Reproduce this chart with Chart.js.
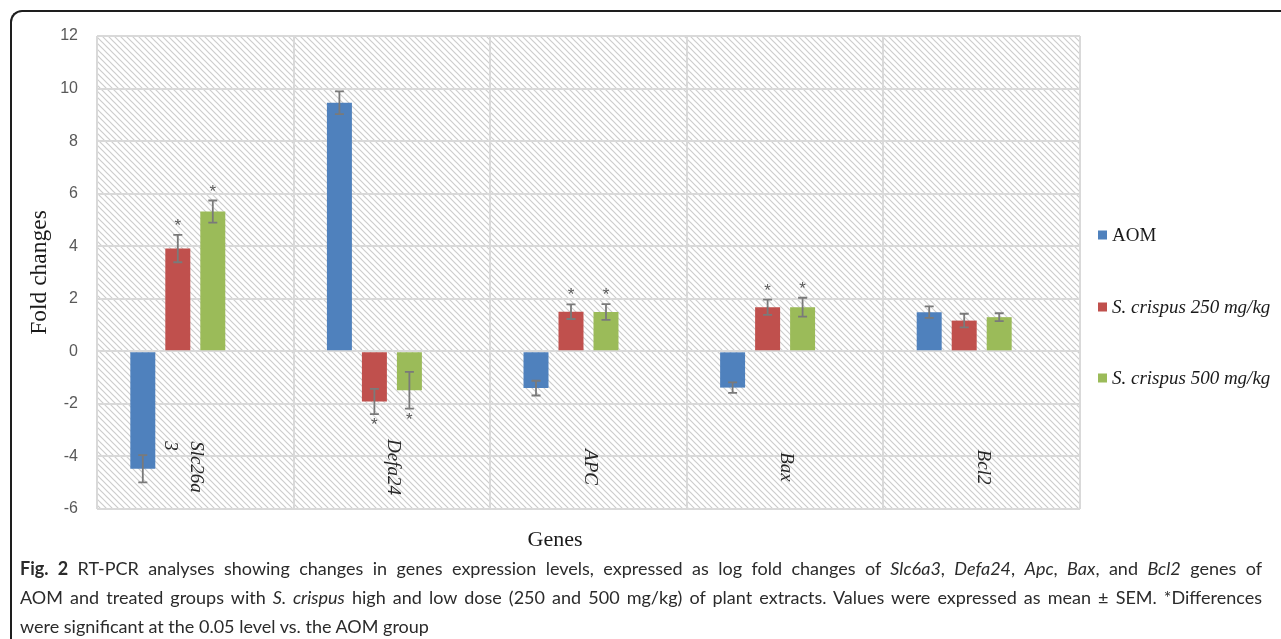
<!DOCTYPE html>
<html>
<head>
<meta charset="utf-8">
<script src="https://cdn.jsdelivr.net/npm/chart.js@4/dist/chart.umd.min.js"></script>
<style>
  html, body { margin: 0; padding: 0; background: #fff; }
  body { width: 1281px; height: 639px; position: relative; overflow: hidden; }
  #frame { position: absolute; left: 10px; top: 10px; width: 1320px; height: 700px;
           border-top: 2px solid #1e1e1e; border-left: 2px solid #1e1e1e;
           border-top-left-radius: 12px; box-sizing: border-box; }
  #wrap { position: absolute; left: 0; top: 0; width: 1281px; height: 560px; }
  #caption { position: absolute; left: 20px; top: 554px; width: 1242px;
             font-family: Lato, "Open Sans", sans-serif; font-size: 18px; line-height: 29px; color: #2b2b2b; }
  #caption div { white-space: nowrap; }
</style>
</head>
<body>
<div id="frame"></div>
<div id="wrap"><canvas id="c" width="1281" height="560"></canvas></div>
<div id="caption">
  <div class="j"><b>Fig. 2</b> RT-PCR analyses showing changes in genes expression levels, expressed as log fold changes of <i>Slc6a3</i>, <i>Defa24</i>, <i>Apc</i>, <i>Bax</i>, and <i>Bcl2</i> genes of</div>
  <div class="j">AOM and treated groups with <i>S. crispus</i> high and low dose (250 and 500 mg/kg) of plant extracts. Values were expressed as mean ± SEM. *Differences</div>
  <div>were significant at the 0.05 level vs. the AOM group</div>
</div>
<script>
// Genes on the category axis (second entry = wrapped lines of the axis label)
const genes = ['Slc26a3', 'Defa24', 'APC', 'Bax', 'Bcl2'];
const geneLabelLines = [['Slc26a', '3'], ['Defa24'], ['APC'], ['Bax'], ['Bcl2']];

// Series names
const seriesNames = ['AOM', 'S. crispus 250 mg/kg', 'S. crispus 500 mg/kg'];
const seriesItalic = [false, true, true];
const seriesColors = ['#4F81BD', '#C0504D', '#9BBB59'];

// Mean log fold changes and SEM
const aom      = [-4.47, 9.46, -1.40, -1.38, 1.49];
const aomErr   = [0.52, 0.43, 0.28, 0.20, 0.22];
const sc250    = [3.91, -1.91, 1.51, 1.68, 1.17];
const sc250Err = [0.52, 0.48, 0.28, 0.29, 0.26];
const sc500    = [5.32, -1.48, 1.50, 1.68, 1.30];
const sc500Err = [0.42, 0.70, 0.30, 0.36, 0.15];

// Significance vs. AOM (p < 0.05)
const aomSig   = [false, false, false, false, false];
const sc250Sig = [true, true, true, true, false];
const sc500Sig = [true, true, true, true, false];

// Value axis ticks
const yTicks = [-6, -4, -2, 0, 2, 4, 6, 8, 10, 12];

const SERIF = '"Liberation Serif", "Times New Roman", serif';
const SANS = '"Liberation Sans", Arial, sans-serif';

const canvas = document.getElementById('c');
const ctx = canvas.getContext('2d');

// diagonal hatch used as plot-area fill
function makeHatch() {
  const s = 6;
  const t = document.createElement('canvas');
  t.width = s; t.height = s;
  const g = t.getContext('2d');
  g.fillStyle = '#ffffff';
  g.fillRect(0, 0, s, s);
  g.strokeStyle = '#cdcdcd';
  g.lineWidth = 1.2;
  g.beginPath();
  g.moveTo(-1, -1); g.lineTo(s + 1, s + 1);
  g.moveTo(-1, s - 1); g.lineTo(1, s + 1);
  g.moveTo(s - 1, -1); g.lineTo(s + 1, 1);
  g.stroke();
  return ctx.createPattern(t, 'repeat');
}
const hatch = makeHatch();

const errs = [aomErr, sc250Err, sc500Err];
const sigs = [aomSig, sc250Sig, sc500Sig];

const decorations = {
  id: 'decorations',
  beforeDraw(chart) {
    const a = chart.chartArea;
    const c = chart.ctx;
    c.save();
    c.fillStyle = hatch;
    c.fillRect(a.left, a.top, a.right - a.left, a.bottom - a.top);
    c.restore();
  },
  afterDatasetsDraw(chart) {
    const c = chart.ctx;
    const y = chart.scales.y;
    c.save();
    for (let d = 0; d < 3; d++) {
      const meta = chart.getDatasetMeta(d);
      const vals = chart.data.datasets[d].data;
      meta.data.forEach((bar, i) => {
        const v = vals[i], e = errs[d][i];
        const yHi = y.getPixelForValue(v + e);
        const yLo = y.getPixelForValue(v - e);
        const x = bar.x;
        c.strokeStyle = '#7a7a7a';
        c.lineWidth = 1.8;
        c.beginPath();
        c.moveTo(x, yHi); c.lineTo(x, yLo);
        c.moveTo(x - 4.5, yHi); c.lineTo(x + 4.5, yHi);
        c.moveTo(x - 4.5, yLo); c.lineTo(x + 4.5, yLo);
        c.stroke();
        if (sigs[d][i]) {
          const fs = 17;
          c.fillStyle = '#5a5a5a';
          c.font = fs + 'px ' + SANS;
          c.textAlign = 'center';
          c.textBaseline = 'alphabetic';
          const cy = v >= 0 ? yHi - 14 : yLo + 6;
          c.fillText('*', x, cy + 0.6 * fs);
        }
      });
    }
    c.restore();
  },
  afterDraw(chart) {
    const c = chart.ctx;
    const x = chart.scales.x;
    const a = chart.chartArea;
    c.save();
    // rotated category labels inside the plot, near the bottom
    c.fillStyle = '#262626';
    c.font = 'italic 19px ' + SERIF;
    c.textBaseline = 'middle';
    c.textAlign = 'left';
    geneLabelLines.forEach((lines, i) => {
      const cx = x.getPixelForValue(i) + 1;
      const cy = a.bottom - 42;
      const w = Math.max(...lines.map(l => c.measureText(l).width));
      c.save();
      c.translate(cx, cy);
      c.rotate(Math.PI / 2);
      lines.forEach((l, k) => c.fillText(l, -w / 2, k * 26));
      c.restore();
    });
    // axis title below the plot
    c.fillStyle = '#1a1a1a';
    c.font = '22px ' + SERIF;
    c.textAlign = 'center';
    c.textBaseline = 'middle';
    c.fillText('Genes', 555, a.bottom + 31);
    // legend
    const lx = a.right + 18;
    const ly = [235, 307, 378];
    seriesNames.forEach((n, i) => {
      c.fillStyle = seriesColors[i];
      c.fillRect(lx, ly[i] - 4.5, 9, 9);
      c.fillStyle = '#1a1a1a';
      c.font = (seriesItalic[i] ? 'italic ' : '') + '19px ' + SERIF;
      c.textAlign = 'left';
      c.textBaseline = 'middle';
      c.fillText(n, lx + 14, ly[i] + 1);
    });
    c.restore();
  }
};

new Chart(canvas, {
  type: 'bar',
  data: {
    labels: genes,
    datasets: [
      { label: seriesNames[0], data: aom, backgroundColor: seriesColors[0] },
      { label: seriesNames[1], data: sc250, backgroundColor: seriesColors[1] },
      { label: seriesNames[2], data: sc500, backgroundColor: seriesColors[2] },
      // empty slot keeps the clusters left of the category centre
      { label: '', data: genes.map(() => null), backgroundColor: 'rgba(0,0,0,0)' }
    ]
  },
  options: {
    responsive: false,
    devicePixelRatio: 1,
    animation: false,
    layout: { padding: { left: 26, right: 201, top: 36, bottom: 51 } },
    datasets: { bar: { categoryPercentage: 0.712, barPercentage: 0.714, borderWidth: 0 } },
    plugins: { legend: { display: false }, tooltip: { enabled: false }, title: { display: false } },
    scales: {
      x: {
        ticks: { display: false },
        grid: { color: '#d9d9d9', lineWidth: 2, drawTicks: false, offset: true },
        border: { display: false },
        afterFit(s) { s.height = 0; }
      },
      y: {
        min: -6, max: 12,
        afterBuildTicks(s) { s.ticks = yTicks.map(v => ({ value: v })); },
        ticks: { color: '#595959', font: { family: SANS, size: 16 }, padding: 19 },
        grid: { color: '#d9d9d9', lineWidth: 2, drawTicks: false },
        border: { display: false },
        title: { display: true, text: 'Fold changes', color: '#1a1a1a',
                 font: { family: SERIF, size: 23.5 }, padding: 0 },
        afterFit(s) { s.width = 71; }
      }
    }
  },
  plugins: [decorations]
});

// spread the first two caption lines across the full width
(function justifyCaption() {
  const full = 1242;
  document.querySelectorAll('#caption .j').forEach(row => {
    const span = document.createElement('span');
    while (row.firstChild) span.appendChild(row.firstChild);
    row.appendChild(span);
    const w = span.getBoundingClientRect().width;
    const spaces = (span.textContent.match(/ /g) || []).length;
    if (spaces) row.style.wordSpacing = ((full - w) / spaces) + 'px';
  });
})();
</script>
</body>
</html>
